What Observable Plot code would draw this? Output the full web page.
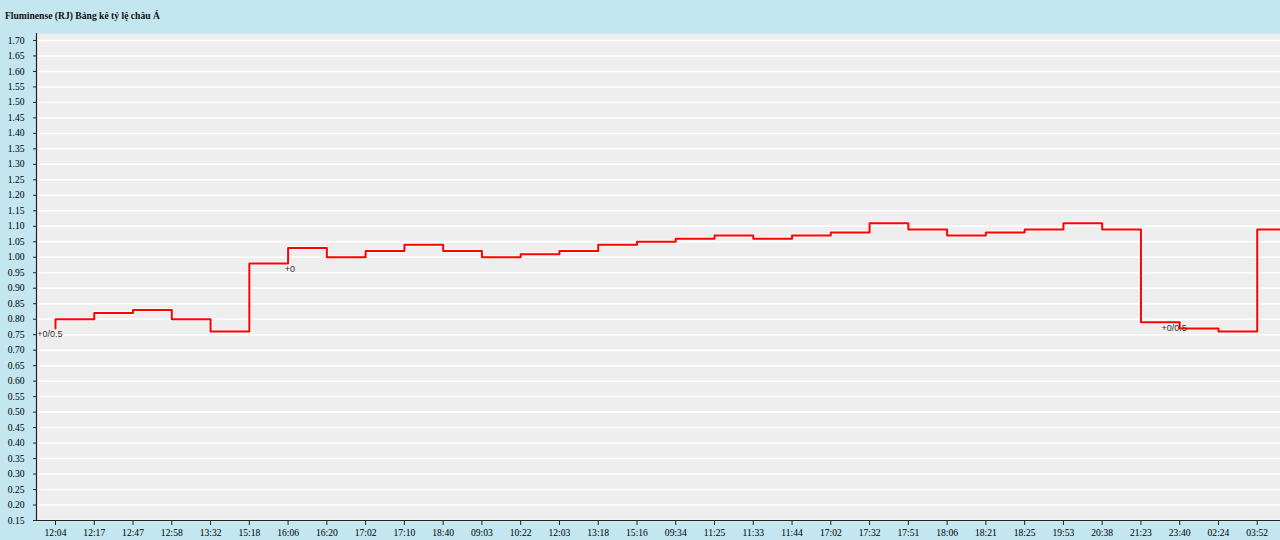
<!DOCTYPE html>
<html>
<head>
<meta charset="utf-8">
<script src="https://cdn.jsdelivr.net/npm/d3@7"></script>
<script src="https://cdn.jsdelivr.net/npm/@observablehq/plot@0.6"></script>
<style>
  html, body { margin: 0; padding: 0; background: #c3e6f1; width: 1280px; height: 540px; overflow: hidden; }
  #title { height: 33px; box-sizing: border-box; padding: 10px 0 0 5px; font: bold 9.6px "Liberation Serif", serif; color: #111; }
  #chart svg { display: block; }
  #chart svg g[aria-label$="axis tick label"] text { font-family: "Liberation Serif", serif; font-size: 9.6px; }
</style>
</head>
<body>
<div id="title">Fluminense (RJ) Bảng kê tỷ lệ châu Á</div>
<div id="chart"></div>
<script>
const times = ["12:04","12:17","12:47","12:58","13:32","15:18","16:06","16:20","17:02","17:10","18:40","09:03","10:22","12:03","13:18","15:16","09:34","11:25","11:33","11:44","17:02","17:32","17:51","18:06","18:21","18:25","19:53","20:38","21:23","23:40","02:24","03:52"];
const odds = [0.80,0.82,0.83,0.80,0.76,0.98,1.03,1.00,1.02,1.04,1.02,1.00,1.01,1.02,1.04,1.05,1.06,1.07,1.06,1.07,1.08,1.11,1.09,1.07,1.08,1.09,1.11,1.09,0.79,0.77,0.76,1.09];
const startOdds = 0.77;
const handicapIndex = [0, 6, 29];
const handicapText = ["+0/0.5", "+0", "+0/0.5"];
const yTicks = d3.range(0.15, 1.7001, 0.05).map(v => Math.round(v * 100) / 100);

// step points: value odds[i] holds from time i to time i+1
const points = [{i: 0, v: startOdds}]
  .concat(odds.map((v, i) => ({i, v})))
  .concat([{i: odds.length, v: odds[odds.length - 1]}]);
const notes = handicapIndex.map((i, k) => ({i, v: i === 0 ? startOdds : odds[i - 1], t: handicapText[k]}));

const xDomain = [-0.49, 31.6];
const yDomain = [0.15, 1.7225];

const chart = Plot.plot({
  width: 1280,
  height: 507,
  marginLeft: 36,
  marginRight: 0,
  marginTop: 0,
  marginBottom: 20,
  x: {type: "linear", domain: xDomain},
  y: {domain: yDomain},
  style: {background: "transparent", fontFamily: "'Liberation Serif', serif", fontSize: "9.6px", color: "#000"},
  marks: [
    Plot.frame({fill: "#eeeeee", stroke: "none"}),
    Plot.gridY(yTicks, {stroke: "#ffffff", strokeOpacity: 1, strokeWidth: 1.5}),
    Plot.ruleX([xDomain[0]], {stroke: "#222", strokeWidth: 1.2}),
    Plot.ruleY([yDomain[0]], {stroke: "#222", strokeWidth: 1.2}),
    Plot.axisY(yTicks, {tickFormat: d3.format(".2f"), tickSize: 3, tickPadding: 9, label: null, stroke: "#222", fontFamily: "Liberation Serif", fontSize: 9.6}),
    Plot.axisX(d3.range(times.length), {tickFormat: i => times[i], tickSize: 5, tickPadding: 4, label: null, stroke: "#222", fontFamily: "Liberation Serif", fontSize: 9.6}),
    Plot.line(points, {x: "i", y: "v", curve: "step-after", stroke: "#ffffff", strokeOpacity: 0.7, strokeWidth: 4, clip: true}),
    Plot.line(points, {x: "i", y: "v", curve: "step-after", stroke: "#ff0000", strokeWidth: 2, clip: true}),
    Plot.text(notes, {x: "i", y: "v", text: "t", dy: 6, dx: 7, textAnchor: "end", fontSize: 9, fontFamily: "Liberation Sans, sans-serif", fill: "#333"})
  ]
});
document.getElementById("chart").appendChild(chart);
</script>
</body>
</html>
